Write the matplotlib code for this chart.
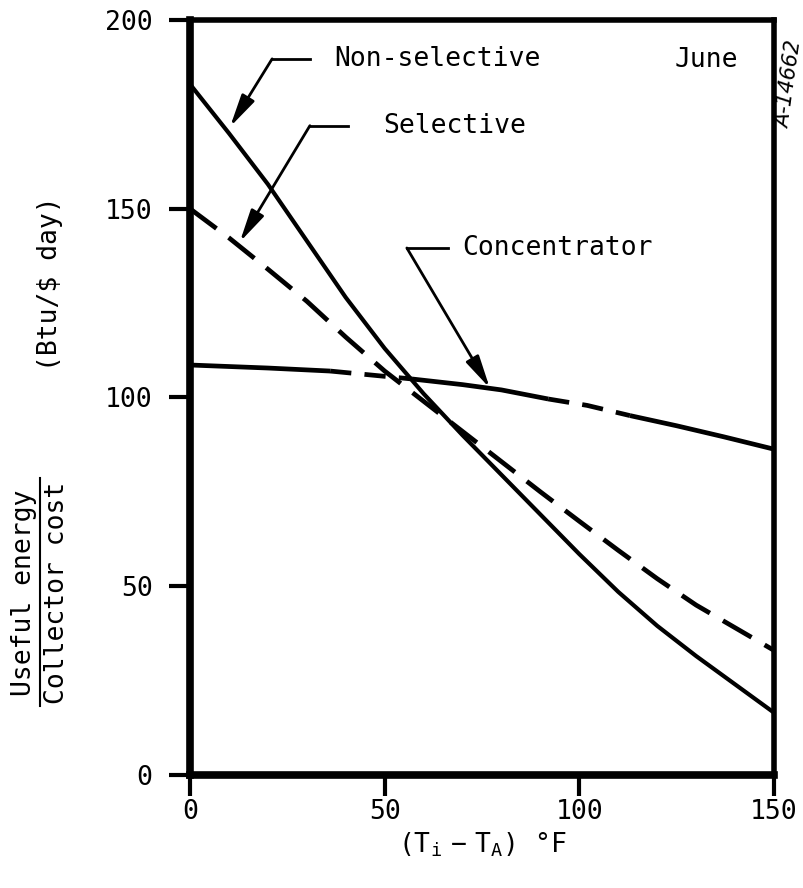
import matplotlib.pyplot as plt
from matplotlib.lines import Line2D
import numpy as np

# data
temp_nonsel = [0, 10, 20, 30, 40, 50, 60, 70, 80, 90, 100, 110, 120, 130, 140, 150]
nonselective = [183, 170, 156.5, 141.5, 126.5, 113, 101, 90, 79.5, 69, 58.5, 48.5, 39.5,
                31.5, 24, 16.5]

temp_sel = [0, 10, 20, 30, 40, 50, 60, 70, 80, 90, 100, 110, 120, 130, 140, 150]
selective = [150, 142.3, 134, 125.5, 116, 107, 99, 91, 83, 75, 67.2, 59.5, 52, 45, 39, 33]

temp_conc = [0, 10, 20, 30, 36, 46, 57, 70, 80, 92, 102, 113, 125, 137, 150]
concentrator = [108.6, 108.2, 107.8, 107.3, 107.0, 106.0, 104.9, 103.4, 102.0,
                99.6, 97.9, 95.2, 92.5, 89.6, 86.3]

xticks = [0, 50, 100, 150]
yticks = [0, 50, 100, 150, 200]

font = 'DejaVu Sans Mono'
plt.rcParams['font.family'] = font
plt.rcParams['mathtext.fontset'] = 'custom'
plt.rcParams['mathtext.rm'] = font
plt.rcParams['mathtext.it'] = font
fs = 19

fig = plt.figure(figsize=(8.04, 8.88), dpi=100)
ax = fig.add_axes([0.2363, 0.1273, 0.7264, 0.8502])

ax.plot(temp_nonsel, nonselective, color='k', lw=3.0, solid_joinstyle='round')
ax.plot(temp_sel, selective, color='k', lw=3.4, dashes=(7, 3.2))

# concentrator curve changes between solid and dashed along its length
segments = [(0, 4, '-'), (4, 6, '--'), (6, 9, '-'), (9, 11, '--'), (11, len(temp_conc) - 1, '-')]
for i0, i1, ls in segments:
    xs = temp_conc[i0:i1 + 1]
    ys = concentrator[i0:i1 + 1]
    if ls == '-':
        ax.plot(xs, ys, color='k', lw=3.4, solid_capstyle='butt')
    else:
        ax.plot(xs, ys, color='k', lw=3.4, dashes=(4.5, 2.8))

ax.set_xlim(0, 150)
ax.set_ylim(0, 200)
ax.set_xticks(xticks)
ax.set_yticks(yticks)
ax.tick_params(axis='both', direction='out', length=15, width=3, labelsize=fs)
ax.tick_params(axis='x', pad=2)
ax.tick_params(axis='y', pad=12)
for side in ['left', 'bottom']:
    ax.spines[side].set_linewidth(5.5)
for side in ['top', 'right']:
    ax.spines[side].set_linewidth(4)

# annotations with elbow leaders
arrow = dict(arrowstyle='-|>,head_length=0.9,head_width=0.2', color='k', lw=2,
             mutation_scale=22, shrinkA=0, shrinkB=0)
ax.plot([21.1, 30.8], [189.7, 189.7], color='k', lw=2)
ax.annotate('', xy=(10.3, 171.7), xytext=(21.1, 189.7), arrowprops=arrow)
ax.text(37, 189.7, 'Non-selective', fontsize=fs, va='center', ha='left')

ax.plot([30.8, 40.6], [172, 172], color='k', lw=2)
ax.annotate('', xy=(12.8, 141.2), xytext=(30.8, 172), arrowprops=arrow)
ax.text(49.6, 172, 'Selective', fontsize=fs, va='center', ha='left')

ax.plot([55.7, 66.3], [139.6, 139.6], color='k', lw=2)
ax.annotate('', xy=(77, 102.5), xytext=(55.7, 139.6), arrowprops=arrow)
ax.text(69.9, 139.6, 'Concentrator', fontsize=fs, va='center', ha='left')

ax.text(124.5, 189.4, 'June', fontsize=fs, va='center', ha='left')

# axis labels
ax.set_xlabel(r'$(\mathrm{T}_{\mathrm{i}}\ -\ \mathrm{T}_{\mathrm{A}})$ °F', fontsize=fs, labelpad=4)
fig.text(0.030, 0.332, 'Useful energy', rotation=90, fontsize=fs, ha='center', va='center')
fig.text(0.071, 0.332, 'Collector cost', rotation=90, fontsize=fs, ha='center', va='center')
fig.add_artist(Line2D([0.050, 0.050], [0.205, 0.462], color='k', lw=1.5, transform=fig.transFigure))
fig.text(0.062, 0.680, '(Btu/$ day)', rotation=90, fontsize=fs, ha='center', va='center')

fig.text(0.982, 0.905, 'A-14662', rotation=82, fontsize=15, style='italic',
         ha='center', va='center', family='DejaVu Sans')

fig.savefig('out.png', dpi=100)
